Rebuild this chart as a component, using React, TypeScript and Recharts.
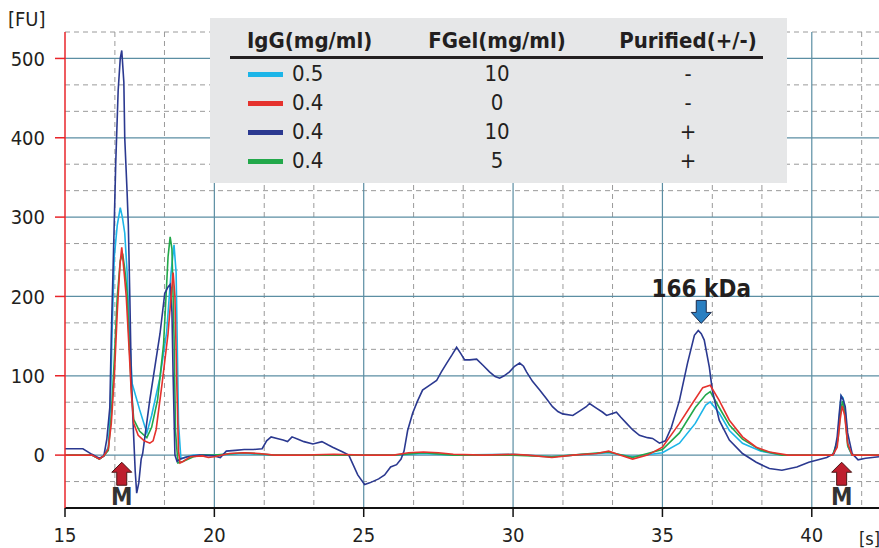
import { LineChart, Line, XAxis, YAxis, CartesianGrid, ReferenceDot } from "recharts";

const FONT = '"Liberation Sans Narrow", "DejaVu Sans Condensed", "Arial Narrow", sans-serif';
const INK = "#231f20";

// time [s], fluorescence [FU]
const navyPts: [number, number][] = [
  [15, 8], [15.6, 8], [15.9, 1], [16.15, -4], [16.3, -1], [16.4, 20], [16.5, 60], [16.55, 150],
  [16.62, 250], [16.7, 370], [16.78, 460], [16.85, 500], [16.9, 510], [16.97, 470], [17.0, 400],
  [17.08, 330], [17.12, 290], [17.17, 200], [17.22, 98], [17.28, 40], [17.35, -20], [17.4, -48],
  [17.47, -35], [17.55, -5], [17.6, 2], [17.84, 70], [18.18, 153], [18.34, 204], [18.45, 212],
  [18.52, 215], [18.58, 180], [18.62, 100], [18.68, 0], [18.75, -8], [18.85, -5], [19.1, -2],
  [19.5, 0], [20.0, -1], [20.2, -3], [20.4, 5], [20.7, 6], [21.0, 7], [21.3, 7], [21.6, 8],
  [21.75, 18], [21.9, 23], [22.1, 21], [22.3, 19], [22.45, 17], [22.6, 23], [22.8, 20], [23.0, 17],
  [23.3, 14], [23.6, 17], [23.8, 13], [23.96, 10], [24.3, 4], [24.5, 0], [24.8, -25], [25.03, -37],
  [25.2, -35], [25.5, -30], [25.7, -25], [25.9, -15], [26.1, -12], [26.25, -5], [26.35, 5],
  [26.47, 31], [26.64, 53], [26.8, 68], [26.97, 82], [27.2, 88], [27.44, 94], [27.6, 105],
  [27.78, 116], [27.95, 126], [28.11, 136], [28.25, 128], [28.38, 120], [28.55, 120], [28.78, 121],
  [29.0, 113], [29.21, 105], [29.4, 99], [29.55, 97], [29.7, 100], [29.88, 105], [30.05, 112],
  [30.22, 116], [30.35, 112], [30.45, 105], [30.65, 93], [30.89, 82], [31.1, 72], [31.32, 61],
  [31.5, 55], [31.66, 52], [32.0, 50], [32.25, 56], [32.45, 61], [32.56, 65], [32.8, 59],
  [33.0, 54], [33.13, 50], [33.3, 52], [33.46, 54], [33.6, 48], [33.8, 40], [34.0, 32],
  [34.23, 25], [34.5, 22], [34.67, 21], [34.9, 15], [35.1, 18], [35.3, 35], [35.57, 69],
  [35.84, 116], [36.07, 151], [36.2, 157], [36.3, 153], [36.4, 145], [36.57, 111], [36.67, 82],
  [36.9, 44], [37.24, 19], [37.68, 2], [38.14, -9], [38.58, -17], [39.0, -19], [39.5, -15],
  [39.9, -9], [40.5, -3], [40.75, 2], [40.85, 23], [40.92, 53], [40.98, 75], [41.05, 70],
  [41.12, 61], [41.2, 28], [41.35, 2], [41.55, -6], [41.8, -4], [42.25, -2],
];

const redPts: [number, number][] = [
  [15, 0], [15.9, 0], [16.15, -5], [16.3, -1], [16.45, 8], [16.55, 40], [16.65, 98], [16.75, 180],
  [16.84, 240], [16.9, 262], [16.98, 230], [17.05, 200], [17.15, 130], [17.22, 78], [17.3, 40],
  [17.45, 25], [17.65, 18], [17.84, 15], [17.95, 18], [18.05, 32], [18.25, 90], [18.45, 153],
  [18.55, 200], [18.62, 230], [18.68, 200], [18.75, 80], [18.8, 5], [18.85, -10], [18.95, -8],
  [19.2, -2], [19.6, -1], [19.8, -3], [20.0, -2], [20.5, 2], [21.0, 3], [21.5, 2], [22.0, 0],
  [23.0, 0], [24.0, 1], [25.0, 0], [26.0, 0], [26.5, 3], [27.0, 4], [27.5, 3], [28.0, 1],
  [29.0, 0], [30.0, 1], [30.5, 0], [31.3, -3], [32.0, 0], [32.8, 2], [33.2, 5], [33.5, 1],
  [34.0, -5], [34.5, 0], [35.0, 10], [35.57, 40], [36.0, 65], [36.35, 85], [36.6, 88], [36.9, 69],
  [37.24, 44], [37.68, 23], [38.14, 10], [38.58, 4], [39.2, 0], [40.0, 0], [40.7, 0], [40.85, 10],
  [40.95, 45], [41.02, 62], [41.1, 50], [41.2, 15], [41.35, 0], [42.25, 0],
];

const cyanPts: [number, number][] = [
  [15, 0], [15.9, 0], [16.15, -5], [16.3, -1], [16.45, 10], [16.52, 60], [16.58, 160], [16.65, 250],
  [16.75, 290], [16.85, 312], [16.92, 300], [17.0, 280], [17.08, 230], [17.15, 160], [17.25, 90],
  [17.5, 57], [17.74, 28], [17.9, 50], [18.18, 98], [18.4, 154], [18.55, 230], [18.65, 265],
  [18.72, 230], [18.8, 40], [18.88, -5], [19.0, -3], [19.3, 0], [20.0, 0], [21.0, 2], [22.0, 0],
  [24.0, 0], [26.0, 0], [27.0, 2], [28.0, 0], [30.0, 1], [31.3, -2], [32.0, 0], [33.2, 3],
  [34.0, -2], [35.0, 3], [35.57, 15], [36.1, 40], [36.45, 63], [36.6, 67], [36.9, 53], [37.24, 31],
  [37.68, 15], [38.3, 5], [39.0, 0], [40.7, 0], [40.85, 15], [40.93, 50], [40.98, 75], [41.05, 72],
  [41.12, 55], [41.22, 10], [41.35, 0], [42.25, 0],
];

const greenPts: [number, number][] = [
  [15, 0], [15.9, 0], [16.15, -5], [16.3, -1], [16.45, 6], [16.55, 50], [16.65, 120], [16.75, 200],
  [16.85, 245], [16.93, 254], [17.0, 235], [17.08, 205], [17.15, 140], [17.22, 85], [17.3, 45],
  [17.5, 30], [17.74, 22], [17.9, 35], [18.1, 70], [18.3, 140], [18.45, 250], [18.52, 275],
  [18.58, 260], [18.65, 150], [18.7, 30], [18.78, -10], [18.95, -8], [19.3, -2], [19.6, 0],
  [20.0, 0], [21.0, 3], [22.0, 0], [24.0, 0], [26.0, 0], [27.0, 3], [28.0, 0], [30.0, 0],
  [31.3, -2], [32.0, 0], [33.2, 4], [34.0, -3], [35.0, 7], [35.57, 28], [36.1, 60], [36.45, 76],
  [36.6, 80], [36.9, 60], [37.24, 38], [37.68, 20], [38.3, 6], [39.0, 0], [40.7, 0], [40.88, 20],
  [40.96, 55], [41.03, 68], [41.1, 55], [41.2, 12], [41.35, 0], [42.25, 0],
];

const xTicks = [15, 20, 25, 30, 35, 40];
const xMinor = [16.67, 18.33, 21.67, 23.33, 26.67, 28.33, 31.67, 33.33, 36.67, 38.33, 41.67];
const yTicks = [0, 100, 200, 300, 400, 500];
const yMinor = [-33.33, 33.33, 66.67, 133.33, 166.67, 233.33, 266.67, 333.33, 366.67, 433.33, 466.67, 533.33];

const legendRows = [
  { color: "#1cb5e8", igg: "0.5", fgel: "10", purified: "-" },
  { color: "#e5322d", igg: "0.4", fgel: "0", purified: "-" },
  { color: "#2b3990", igg: "0.4", fgel: "10", purified: "+" },
  { color: "#22a84a", igg: "0.4", fgel: "5", purified: "+" },
];

const toRows = (pts: [number, number][]) => pts.map(([t, v]) => ({ t, v }));

function MarkerArrow(props: any) {
  const { cx, cy } = props;
  return (
    <g>
      <path
        d={`M${cx},${cy} L${cx + 10},${cy + 10} L${cx + 5},${cy + 10} L${cx + 5},${cy + 23} L${cx - 5},${cy + 23} L${cx - 5},${cy + 10} L${cx - 10},${cy + 10} Z`}
        fill="#be1e2d"
        stroke="#4a1515"
        strokeWidth={1}
      />
      <text x={cx} y={cy + 43} textAnchor="middle" fontFamily={FONT} fontWeight="bold" fontSize={24} fill="#333">
        M
      </text>
    </g>
  );
}

function KdaArrow(props: any) {
  const { cx, cy } = props;
  return (
    <g>
      <path
        d={`M${cx},${cy} L${cx + 10},${cy - 11} L${cx + 5},${cy - 11} L${cx + 5},${cy - 23} L${cx - 5},${cy - 23} L${cx - 5},${cy - 11} L${cx - 10},${cy - 11} Z`}
        fill="#2a7fc1"
        stroke="#1b2a4a"
        strokeWidth={1}
      />
      <text x={cx} y={cy - 26} textAnchor="middle" fontFamily={FONT} fontWeight="bold" fontSize={24} fill={INK}>
        166 kDa
      </text>
    </g>
  );
}

export default function App() {
  return (
    <div
      style={{
        position: "absolute",
        left: 0,
        top: 0,
        width: 879,
        height: 548,
        overflow: "hidden",
        background: "#fff",
        fontFamily: FONT,
        color: INK,
      }}
    >
      <LineChart width={879} height={548} margin={{ top: 32, right: 0, left: 0, bottom: 0 }}>
        <CartesianGrid
          horizontalValues={yMinor}
          verticalValues={xMinor}
          stroke="#9a9a9a"
          strokeDasharray="5 4"
        />
        <CartesianGrid horizontalValues={yTicks} verticalValues={xTicks.slice(1)} stroke="#5b8ea3" strokeWidth={1.2} />
        <XAxis
          type="number"
          dataKey="t"
          domain={[15, 42.25]}
          ticks={xTicks}
          allowDataOverflow
          height={40}
          axisLine={{ stroke: "#111", strokeWidth: 2 }}
          tickLine={{ stroke: "#111", strokeWidth: 1.5 }}
          tickSize={9}
          tickMargin={11}
          tick={{ fontFamily: FONT, fontSize: 20, fill: INK }}
        />
        <YAxis
          type="number"
          domain={[-66.67, 533.33]}
          ticks={yTicks}
          allowDataOverflow
          width={65}
          axisLine={{ stroke: "#e8262b", strokeWidth: 1.5 }}
          tickLine={{ stroke: "#e8262b", strokeWidth: 1.5 }}
          tickSize={10}
          tickMargin={10}
          tick={{ fontFamily: FONT, fontSize: 20, fill: INK }}
        />
        <Line data={toRows(cyanPts)} dataKey="v" stroke="#1cb5e8" strokeWidth={1.6} dot={false} isAnimationActive={false} />
        <Line data={toRows(greenPts)} dataKey="v" stroke="#22a84a" strokeWidth={1.6} dot={false} isAnimationActive={false} />
        <Line data={toRows(navyPts)} dataKey="v" stroke="#2b3990" strokeWidth={1.6} dot={false} isAnimationActive={false} />
        <Line data={toRows(redPts)} dataKey="v" stroke="#e5322d" strokeWidth={1.6} dot={false} isAnimationActive={false} />
        <ReferenceDot x={16.9} y={-9} r={0} shape={MarkerArrow} />
        <ReferenceDot x={41.0} y={-9} r={0} shape={MarkerArrow} />
        <ReferenceDot x={36.3} y={166} r={0} shape={KdaArrow} />
      </LineChart>

      <div style={{ position: "absolute", left: 8, top: 7, fontSize: 20 }}>[FU]</div>
      <div style={{ position: "absolute", left: 859, top: 528, fontSize: 18, whiteSpace: "nowrap" }}>[s]</div>

      <div style={{ position: "absolute", left: 210, top: 18, width: 577, height: 165, background: "#e6e7e8" }}>
        <div style={{ position: "absolute", left: 37, top: 10, fontSize: 22, fontWeight: "bold" }}>IgG(mg/ml)</div>
        <div style={{ position: "absolute", left: 287, top: 10, fontSize: 22, fontWeight: "bold", transform: "translateX(-50%)", whiteSpace: "nowrap" }}>
          FGel(mg/ml)
        </div>
        <div style={{ position: "absolute", left: 478, top: 10, fontSize: 22, fontWeight: "bold", transform: "translateX(-50%)", whiteSpace: "nowrap" }}>
          Purified(+/-)
        </div>
        <div style={{ position: "absolute", left: 20, top: 38, width: 533, height: 3, background: INK }} />
        {legendRows.map((r, i) => (
          <div key={i} style={{ position: "absolute", left: 0, top: 43 + i * 29, width: 577, height: 26, fontSize: 22 }}>
            <div style={{ position: "absolute", left: 38, top: 11, width: 35, height: 5, background: r.color }} />
            <div style={{ position: "absolute", left: 82, top: 0 }}>{r.igg}</div>
            <div style={{ position: "absolute", left: 287, top: 0, transform: "translateX(-50%)" }}>{r.fgel}</div>
            <div style={{ position: "absolute", left: 478, top: 0, transform: "translateX(-50%)" }}>{r.purified}</div>
          </div>
        ))}
      </div>
    </div>
  );
}
